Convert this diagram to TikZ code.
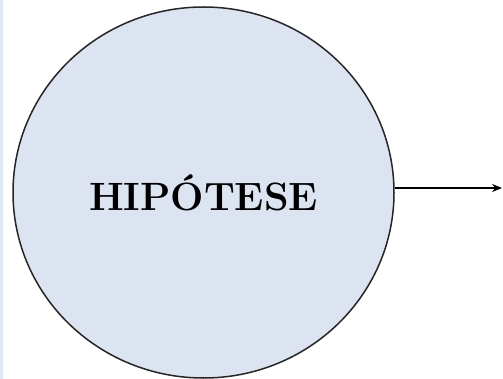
\documentclass[tikz,border=0pt]{standalone}
\usetikzlibrary{arrows.meta,shapes.geometric}
\definecolor{hypfill}{RGB}{219,228,240}
\definecolor{edgeblue}{RGB}{222,232,246}
\begin{document}
\begin{tikzpicture}[x=1pt,y=-1pt,
  hypnode/.style={ellipse, draw=black!85, line width=1.5pt, fill=hypfill,
    minimum width=381pt, minimum height=371pt, inner sep=0pt,
    font=\bfseries\fontsize{39.5}{42}\selectfont},
  outarrow/.style={-{Stealth[length=10pt,width=8pt]}, line width=1.3pt, black}]
  \useasboundingbox (0,0) rectangle (503,379);
  \fill[white] (0,0) rectangle (503,379);
  \fill[edgeblue] (0,0) rectangle (3,379);
  \node[hypnode] (hyp) at (203.5,192.5) {HIPÓTESE};
  \coordinate (out) at (502,188);
  \draw[outarrow] (hyp.east |- out) -- (out);
\end{tikzpicture}
\end{document}
